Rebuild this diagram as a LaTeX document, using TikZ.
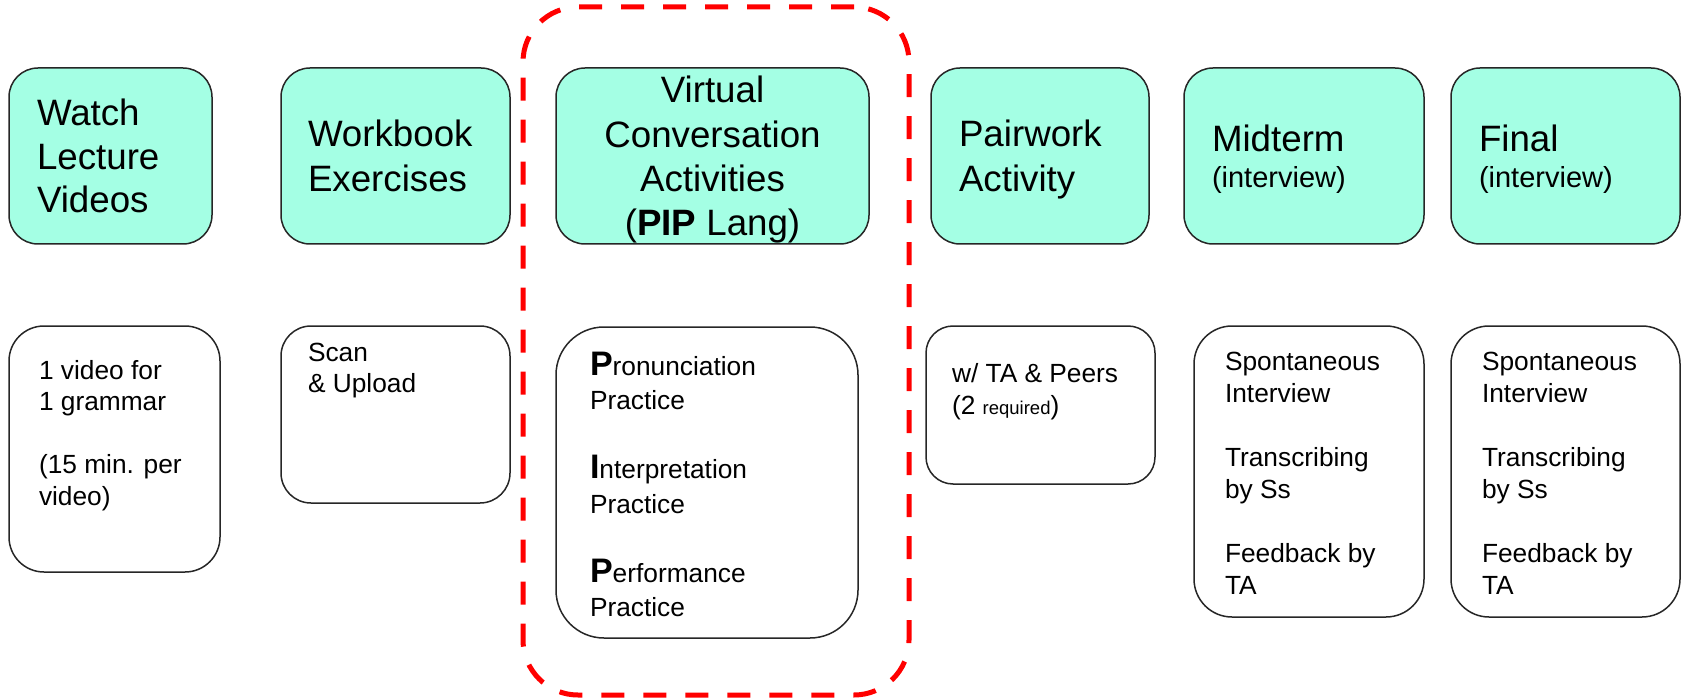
\documentclass[tikz,border=0pt]{standalone}
\usepackage{fontspec}
\setmainfont{Liberation Sans}

\definecolor{aqua}{RGB}{164,255,228}
\definecolor{boxline}{RGB}{38,38,38}
\definecolor{groupred}{RGB}{255,0,0}

% type sizes
\newcommand\headsize{\fontsize{36.7}{44}\selectfont}
\newcommand\bodysize{\fontsize{26.3}{31.5}\selectfont}
\newcommand\noteSize{\fontsize{29}{34}\selectfont}
\newcommand\tinysize{\fontsize{18.5}{22}\selectfont}
\newcommand\initial[1]{{\fontsize{34}{34}\selectfont\bfseries #1}}

% stacked lines with a fixed distance between baselines;
% the stack's baseline is that of its first line
\newcommand\leftstack[2]{\vtop{\baselineskip=#1\lineskiplimit=-1000pt\lineskip=0pt
  \halign{##\hfil\cr#2\crcr}}}
\newcommand\midstack[2]{\vtop{\baselineskip=#1\lineskiplimit=-1000pt\lineskip=0pt
  \halign{\hfil##\hfil\cr#2\crcr}}}

\tikzset{
  boxbase/.style={draw=boxline, line width=1.5pt, anchor=north west, inner sep=0pt, outer sep=0pt},
  topbox/.style={boxbase, fill=aqua, rounded corners=29pt, minimum height=176pt},
  lowbox/.style={boxbase, fill=white},
  txt/.style={anchor=base west, inner sep=0pt, outer sep=0pt, text=black},
  txtmid/.style={anchor=base, inner sep=0pt, outer sep=0pt, text=black},
  groupframe/.style={draw=groupred, line width=5pt, dash pattern=on 23pt off 19pt,
    rounded corners=55pt, inner sep=0pt, outer sep=0pt, anchor=north west},
}

\begin{document}
\begin{tikzpicture}[x=1pt, y=-1pt]
\useasboundingbox (0,0) rectangle (1685,700);

% frame round the PIP Lang column
\node[groupframe, minimum width=386pt, minimum height=688pt] (group) at (523,7) {};

% activity headings
\node[topbox, minimum width=203pt] (t1) at (9,68) {};
\node[topbox, minimum width=229pt] (t2) at (281,68) {};
\node[topbox, minimum width=313pt] (t3) at (556,68) {};
\node[topbox, minimum width=218pt] (t4) at (931,68) {};
\node[topbox, minimum width=240pt] (t5) at (1184,68) {};
\node[topbox, minimum width=229pt] (t6) at (1451,68) {};

\node[txt] (t1text) at (37,126) {\headsize\leftstack{43.5pt}{Watch\cr Lecture\cr Videos}};
\node[txt] (t2text) at (308,147) {\headsize\leftstack{45pt}{Workbook\cr Exercises}};
\node[txtmid] (t3text) at (712.5,103) {\headsize\midstack{44.3pt}{Virtual\cr Conversation\cr Activities\cr (\textbf{PIP} Lang)}};
\node[txt] (t4text) at (959,147) {\headsize\leftstack{45pt}{Pairwork\cr Activity}};
\node[txt] (t5text) at (1212,152) {\leftstack{36pt}{\headsize Midterm\cr \noteSize(interview)}};
\node[txt] (t6text) at (1479,152) {\leftstack{36pt}{\headsize Final\cr \noteSize(interview)}};

% details under each heading
\node[lowbox, rounded corners=35pt, minimum width=211pt, minimum height=246pt] (b1) at (9,326) {};
\node[lowbox, rounded corners=30pt, minimum width=229pt, minimum height=177pt] (b2) at (281,326) {};
\node[lowbox, rounded corners=48pt, minimum width=302pt, minimum height=311pt] (b3) at (556,327) {};
\node[lowbox, rounded corners=27pt, minimum width=229pt, minimum height=158pt] (b4) at (926,326) {};
\node[lowbox, rounded corners=38pt, minimum width=230pt, minimum height=291pt] (b5) at (1194,326) {};
\node[lowbox, rounded corners=38pt, minimum width=229pt, minimum height=291pt] (b6) at (1451,326) {};

\node[txt] (b1text) at (39,379) {\bodysize\leftstack{31.5pt}{1 video for\cr 1 grammar\cr \cr (15 min. per\cr video)}};
\node[txt] (b2text) at (308,361) {\bodysize\leftstack{31.5pt}{Scan\cr \& Upload}};
\node[txt] (b3text) at (590,375) {\bodysize\leftstack{34.5pt}{%
  \initial{P}ronunciation\cr Practice\cr \cr
  \initial{I}nterpretation\cr Practice\cr \cr
  \initial{P}erformance\cr Practice}};
\node[txt] (b4text) at (952,382) {\bodysize\leftstack{32pt}{w/ TA \& Peers\cr (2 {\tinysize required})}};
\node[txt] (b5text) at (1225,370) {\bodysize\leftstack{32pt}{Spontaneous\cr Interview\cr \cr Transcribing\cr by Ss\cr \cr Feedback by\cr TA}};
\node[txt] (b6text) at (1482,370) {\bodysize\leftstack{32pt}{Spontaneous\cr Interview\cr \cr Transcribing\cr by Ss\cr \cr Feedback by\cr TA}};
\end{tikzpicture}
\end{document}
